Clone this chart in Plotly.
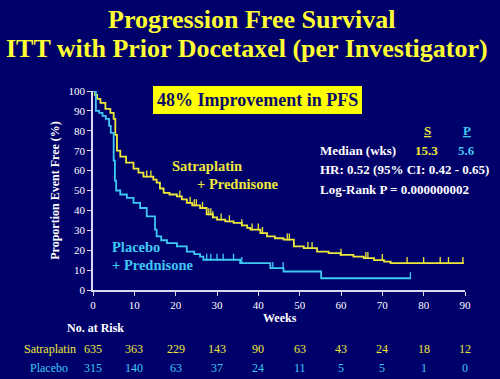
import plotly.graph_objects as go
import numpy as np

# ---- data ----
sat_weeks = [0, 0.5, 1.0, 1.8, 3.0, 4.2, 5.0, 5.4, 5.8, 6.6, 8.0, 9.8, 11, 12.2, 14.6, 15.4, 16.2, 17.1,
             18.5, 20.3, 21.5, 22.7, 24, 25.9, 27.5, 29, 30, 32, 34, 36, 37.3, 38.1, 40.5, 42.1, 44,
             46.1, 48.6, 51, 54.2, 57, 59.9, 63, 65.5, 68, 70.4, 72, 89.7]
sat_pct = [100, 98, 96, 94, 91, 89, 86, 78, 70, 67, 64, 61, 59, 57, 55.5, 54, 51, 48.8,
           48, 47, 45.5, 43.8, 42.5, 41.2, 38, 36.5, 35.4, 34.5, 33.7, 32.5, 31.2, 30.3, 28.6, 26.9, 26,
           25.3, 21.9, 21, 19.3, 18.5, 17.7, 16.8, 16, 15, 14.3, 13.5, 13.5]

pla_weeks = [0, 0.7, 1.5, 2.3, 3.1, 3.9, 4.3, 5.0, 5.3, 5.6, 6.6, 8.2, 9.8, 11.4, 13.0, 15.0, 15.4,
             16.5, 17.9, 20.3, 22.7, 24.5, 25.9, 26.7, 35.6, 42.9, 46.1, 55.2, 76.8]
pla_pct = [100, 90, 89, 87.5, 86, 82.5, 79, 65, 55, 50, 48, 46.3, 43.8, 41.2, 37, 30.3, 26.9,
           25, 23.6, 21.9, 19.3, 18, 16.8, 15.2, 13.5, 11, 9.3, 5.9, 5.9]

sat_censor = [13, 14, 21, 23.5, 24.5, 25, 26.5, 28, 28.5, 29, 31, 33, 36, 38.5, 40, 41, 47, 47.5,
              52, 53, 60, 66, 66.5, 70, 76, 80, 84, 86, 89.5]
pla_censor = [27.5, 28.5, 30, 31.5, 34, 36, 43.5, 46, 76.8]

risk_weeks = [0, 10, 20, 30, 40, 50, 60, 70, 80, 90]
risk_sat = [635, 363, 229, 143, 90, 63, 43, 24, 18, 12]
risk_pla = [315, 140, 63, 37, 24, 11, 5, 5, 1, 0]

YEL = "#EEE83A"
CYAN = "#3EC8F4"
BG = "#00006A"
FONT = "Liberation Serif"


def step_at(xs, ys, x):
    idx = np.searchsorted(np.array(xs), x, side="right") - 1
    return ys[max(idx, 0)]


fig = go.Figure()
fig.add_trace(go.Scatter(x=sat_weeks, y=sat_pct, mode="lines", line=dict(color=YEL, width=1.8, shape="hv"),
                         cliponaxis=False, showlegend=False))
fig.add_trace(go.Scatter(x=pla_weeks, y=pla_pct, mode="lines", line=dict(color=CYAN, width=1.8, shape="hv"),
                         cliponaxis=False, showlegend=False))
fig.add_trace(go.Scatter(x=sat_censor, y=[step_at(sat_weeks, sat_pct, c) + 1.3 for c in sat_censor],
                         mode="markers", marker=dict(symbol="line-ns", size=5, line=dict(color=YEL, width=1.3)),
                         showlegend=False))
fig.add_trace(go.Scatter(x=pla_censor, y=[step_at(pla_weeks, pla_pct, c) + 1.3 for c in pla_censor],
                         mode="markers", marker=dict(symbol="line-ns", size=5, line=dict(color=CYAN, width=1.3)),
                         showlegend=False))

ann = []


def A(text, x, y, color="white", size=13, xanchor="left", xref="paper", yref="paper", bold=True, **kw):
    t = f"<b>{text}</b>" if bold else text
    ann.append(dict(text=t, x=x, y=y, xref=xref, yref=yref, showarrow=False, xanchor=xanchor,
                    yanchor="middle", font=dict(family=FONT, size=size, color=color), **kw))


W, H = 500, 379
L, R, T, B = 93, 35, 91, 89
pw, ph = W - L - R, H - T - B


def px(x):
    return (x - L) / pw


def py(y):
    return (H - B - y) / ph


A("Progression Free Survival", px(251), py(20), color="#FFFF33", size=26, xanchor="center")
A("ITT with Prior Docetaxel (per Investigator)", px(247), py(48), color="#FFFF33", size=26, xanchor="center")
A("48% Improvement in PFS", px(257), py(100), color="#0A0A6A", size=18, xanchor="center",
  bgcolor="#FFFF00", bordercolor="#FFFF00", borderpad=3, borderwidth=1)

A("<u>S</u>", px(427), py(130), color=YEL, size=13, xanchor="center")
A("<u>P</u>", px(467), py(130), color=CYAN, size=13, xanchor="center")
A("Median (wks)", px(318), py(150), size=13)
A("15.3", px(426), py(150), color=YEL, size=13, xanchor="center")
A("5.6", px(466), py(150), color=CYAN, size=13, xanchor="center")
A("HR: 0.52 (95% CI: 0.42 - 0.65)", px(318), py(169), size=13)
A("Log-Rank P = 0.000000002", px(318), py(189), size=13)

A("Satraplatin", px(170), py(166), color=YEL, size=14.5)
A("+ Prednisone", px(195), py(184), color=YEL, size=14.5)
A("Placebo", px(110), py(247), color=CYAN, size=14.5)
A("+ Prednisone", px(110), py(265), color=CYAN, size=14.5)

A("Weeks", px(280), py(318), size=12, xanchor="center")
A("No. at Risk", px(65), py(328), size=12)
A("Satraplatin", px(78), py(349), color=YEL, size=12, xanchor="right", bold=False)
A("Placebo", px(28), py(368), color=CYAN, size=12, bold=False)
for w, s, p in zip(risk_weeks, risk_sat, risk_pla):
    A(str(s), w, py(349), color=YEL, size=12, xanchor="center", xref="x", bold=False)
    A(str(p), w, py(368), color=CYAN, size=12, xanchor="center", xref="x", bold=False)

fig.update_layout(
    width=W, height=H,
    margin=dict(l=L, r=R, t=T, b=B),
    paper_bgcolor=BG, plot_bgcolor=BG,
    annotations=ann,
    font=dict(family=FONT, color="white"),
    xaxis=dict(range=[0, 90], tickvals=risk_weeks, showgrid=False, zeroline=False, showline=True,
               linecolor="#D8D8F0", linewidth=1.5, ticks="outside", ticklen=4, tickcolor="#D8D8F0",
               tickfont=dict(family=FONT, size=11, color="white")),
    yaxis=dict(range=[0, 100], tickvals=list(range(0, 101, 10)), showgrid=False, zeroline=False,
               showline=True, linecolor="#D8D8F0", linewidth=1.5, ticks="outside", ticklen=4,
               tickcolor="#D8D8F0", tickfont=dict(family=FONT, size=11, color="white"),
               title=dict(text="<b>Proportion Event Free (%)</b>", font=dict(family=FONT, size=12, color="white"),
                          standoff=6)),
)

fig.write_html("out.html", config={"displayModeBar": False},
               post_script="document.body.style.margin='0';document.body.style.background='#00006A';")
